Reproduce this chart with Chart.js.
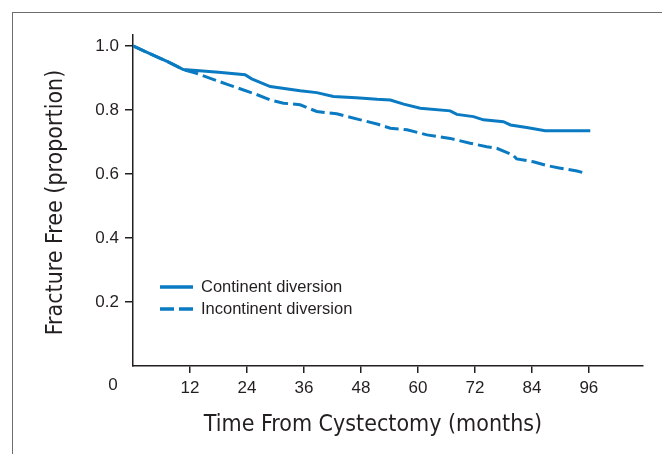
<!DOCTYPE html>
<html>
<head>
<meta charset="utf-8">
<title>Fracture free by diversion type</title>
<script src="https://cdn.jsdelivr.net/npm/chart.js@4.4.1/dist/chart.umd.min.js"></script>
<style>
    html, body { margin: 0; padding: 0; background: #fff; overflow: hidden; }
    #wrap { position: relative; width: 662px; height: 454px; }
    #frame {
        position: absolute; left: 12px; top: 12px; width: 700px; height: 500px;
        border-left: 1.5px solid #6d6d6d; border-top: 1.5px solid #6d6d6d;
    }
    #myLineChart { position: absolute; left: 0; top: 0; }
</style>
</head>
<body>
<div id="wrap">
    <div id="frame"></div>
    <canvas id="myLineChart" width="662" height="454"></canvas>
</div>
<script>
// months and fracture free proportion
const cont_months = [0, 3.2, 7.4, 10.6, 14, 18, 23.6, 25, 28.9, 35.2, 38.7, 42.2, 47, 51.4, 54.2, 57, 60.5, 66.8, 68.2, 71.7, 73.8, 78, 79.5, 82.9, 86.8, 96.3],
    cont_values = [1.0, 0.978, 0.95, 0.926, 0.922, 0.918, 0.91, 0.897, 0.873, 0.86, 0.854, 0.842, 0.838, 0.833, 0.831, 0.818, 0.805, 0.797, 0.786, 0.779, 0.769, 0.763, 0.753, 0.745, 0.735, 0.735];

const incont_months = [0, 3.2, 7.4, 10.6, 13, 20, 25.7, 28.9, 31.7, 35.2, 38.7, 42.9, 47.9, 51.6, 54.2, 57.7, 61.9, 66.8, 71, 74.5, 76.6, 80, 80.8, 84.3, 87.2, 90, 93.5, 95.4],
    incont_values = [1.0, 0.978, 0.95, 0.926, 0.916, 0.879, 0.85, 0.831, 0.821, 0.816, 0.795, 0.788, 0.769, 0.755, 0.743, 0.738, 0.722, 0.711, 0.696, 0.685, 0.68, 0.659, 0.647, 0.638, 0.626, 0.618, 0.609, 0.602];

// tick labels on both axes
const x_ticks = [12, 24, 36, 48, 60, 72, 84, 96],
    y_ticks = [0.2, 0.4, 0.6, 0.8, 1.0];

const series_labels = ["Continent diversion", "Incontinent diversion"],
    x_title = "Time From Cystectomy (months)",
    y_title = "Fracture Free (proportion)";

const blue = "#0a7bc2",
    ink = "#231f20",
    font_family = '"Liberation Sans", Arial, sans-serif',
    narrow_family = '"Liberation Sans Narrow", "Arial Narrow", "DejaVu Sans Condensed", sans-serif';

// pair the months with the values for the line dataset
toPoints = (xs, ys) => xs.map((x, i) => ({ x: x, y: ys[i] }));

// draws the origin "0", axis titles and the legend at the spots used in the figure
const extrasPlugin = {
    id: "extras",
    afterDraw(chart) {
        const c = chart.ctx,
            area = chart.chartArea,
            xs = chart.scales.x;
        c.save();
        c.fillStyle = ink;

        // the lone 0 under the origin
        c.font = `17px ${font_family}`;
        c.textAlign = "center";
        c.textBaseline = "middle";
        c.fillText("0", xs.getPixelForValue(0) - 20, area.bottom + 19);

        // x title
        c.font = `23px ${narrow_family}`;
        c.fillText(x_title, area.left + 240, area.bottom + 59);

        // y title
        c.translate(56, (area.top + area.bottom) / 2 + 2);
        c.rotate(-Math.PI / 2);
        c.fillText(y_title, 0, 0);
        c.restore();

        // legend
        c.save();
        chart.data.datasets.forEach((ds, i) => {
            const y = area.top + 252 + i * 22;
            c.strokeStyle = ds.borderColor;
            c.lineWidth = 3.5;
            c.setLineDash(i === 0 ? [] : [14, 5]);
            c.beginPath();
            c.moveTo(area.left + 27, y);
            c.lineTo(area.left + 60, y);
            c.stroke();
            c.setLineDash([]);
            c.fillStyle = ink;
            c.font = `16.5px ${font_family}`;
            c.textAlign = "left";
            c.textBaseline = "middle";
            c.fillText(ds.label, area.left + 68, y);
        });
        c.restore();
    }
};

const ctx = document.getElementById("myLineChart").getContext("2d");

new Chart(ctx, {
    type: "line",
    data: {
        datasets: [{
                label: series_labels[0],
                data: toPoints(cont_months, cont_values),
                borderColor: blue,
                borderWidth: 3,
                pointRadius: 0,
                tension: 0
            },
            {
                label: series_labels[1],
                data: toPoints(incont_months, incont_values),
                borderColor: blue,
                borderWidth: 3,
                borderDash: [14, 5],
                pointRadius: 0,
                tension: 0
            }
        ]
    },
    options: {
        responsive: false,
        animation: false,
        layout: {
            padding: { top: 35, right: 19, left: 0, bottom: 0 }
        },
        plugins: {
            legend: { display: false },
            tooltip: { enabled: false }
        },
        scales: {
            x: {
                type: "linear",
                min: 0,
                max: 107.4,
                afterFit: (s) => { s.height = 88; },
                afterBuildTicks: (s) => { s.ticks = x_ticks.map(v => ({ value: v })); },
                border: { display: true, color: ink, width: 1.5 },
                grid: { drawOnChartArea: false, drawTicks: true, tickLength: 7, color: ink, lineWidth: 1.5 },
                ticks: {
                    color: ink,
                    font: { size: 17, family: font_family },
                    padding: 5,
                    maxRotation: 0
                }
            },
            y: {
                type: "linear",
                min: 0,
                max: 1.034,
                afterFit: (s) => { s.width = 133; },
                afterBuildTicks: (s) => { s.ticks = y_ticks.map(v => ({ value: v })); },
                border: { display: true, color: ink, width: 1.5 },
                grid: { drawOnChartArea: false, drawTicks: true, tickLength: 8, color: ink, lineWidth: 1.5 },
                ticks: {
                    color: ink,
                    font: { size: 17, family: font_family },
                    padding: 6,
                    callback: (v) => v.toFixed(1)
                }
            }
        }
    },
    plugins: [extrasPlugin]
});
</script>
</body>
</html>
